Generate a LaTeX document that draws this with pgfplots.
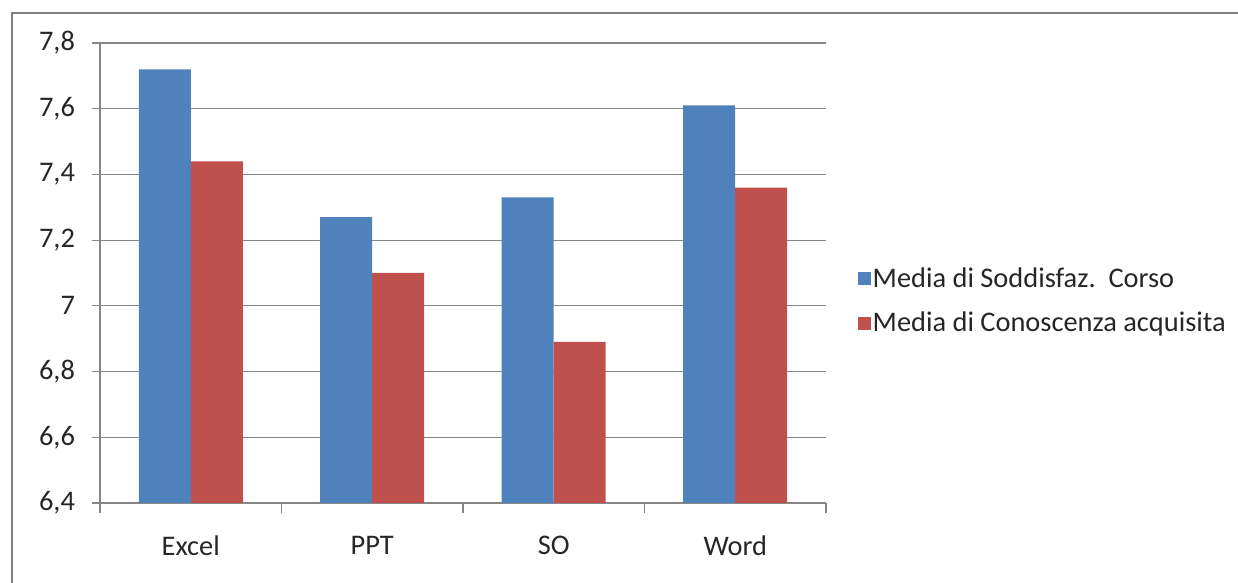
\documentclass[border=0pt]{standalone}
\usepackage{pgfplots}
\pgfplotsset{compat=1.18}
\usepackage{fontspec}
\setmainfont{Carlito}
\definecolor{serblue}{RGB}{79,129,189}
\definecolor{serred}{RGB}{192,80,77}
\definecolor{gridgray}{RGB}{134,134,134}
\definecolor{framegray}{RGB}{128,128,128}

\begin{document}
\begin{tikzpicture}
\path[use as bounding box] (0,0) rectangle (619pt,291.5pt);
\draw[framegray, line width=1.2pt] (6pt,-3pt) -- (6pt,285pt) -- (625pt,285pt);
\begin{axis}[
    at={(50pt,40pt)}, anchor=south west,
    scale only axis,
    width=363pt, height=230pt,
    ybar=0pt, bar width=26pt,
    xmin=-0.5, xmax=3.5,
    ymin=6.4, ymax=7.8,
    ytick={6.4,6.6,...,7.8},
    xtick={0,1,2,3},
    xticklabels={Excel,PPT,SO,Word},
    minor xtick={-0.5,0.5,1.5,2.5,3.5},
    major x tick style={draw=none},
    minor tick length=5pt,
    major tick length=4pt,
    tick align=outside,
    tick style={gridgray, line width=0.6pt},
    axis x line*=bottom, axis y line*=left,
    axis line style={gridgray, line width=0.6pt, -},
    ymajorgrids,
    major grid style={gridgray, line width=0.6pt},
    /pgf/number format/assume math mode=true,
    /pgf/number format/use comma,
    yticklabel style={/pgf/number format/fixed, /pgf/number format/precision=1},
    tick label style={font=\fontsize{14.2}{17}\selectfont, text=black!85},
    yticklabel style={xshift=-5pt},
    xticklabel style={yshift=-9pt},
    legend style={at={(1.044,0.439)}, anchor=west, draw=none, fill=none,
        font=\fontsize{14.2}{17}\selectfont, text=black!85,
        row sep=9.5pt, inner sep=0pt, legend cell align=left,
        nodes={inner sep=0.7pt}},
    legend image code/.code={\fill[#1] (0pt,-3.25pt) rectangle (6.5pt,3.25pt);},
]
% Media di Soddisfaz. Corso
\addplot[fill=serblue, draw=none] coordinates {(0,7.72) (1,7.27) (2,7.33) (3,7.61)};
% Media di Conoscenza acquisita
\addplot[fill=serred, draw=none] coordinates {(0,7.44) (1,7.10) (2,6.89) (3,7.36)};
\legend{Media di Soddisfaz.\ \ Corso, Media di Conoscenza acquisita}
\end{axis}
\end{tikzpicture}
\end{document}
